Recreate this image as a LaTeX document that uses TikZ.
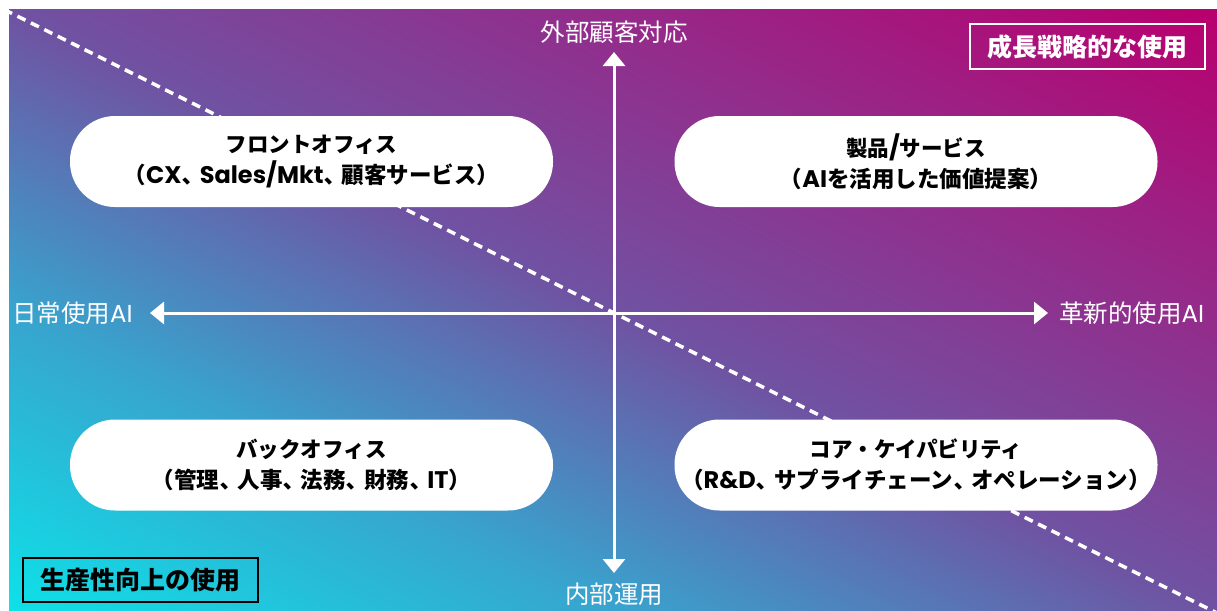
\documentclass[tikz,border=0pt]{standalone}
\usepackage{fontspec}
\setmainfont{Noto Sans CJK JP}
\newfontfamily\latf{Poppins}
\usetikzlibrary{arrows.meta}
\definecolor{c0}{HTML}{0EE0E8}
\definecolor{c1}{HTML}{38A4CE}
\definecolor{c2}{HTML}{7052A2}
\definecolor{c3}{HTML}{952A8A}
\definecolor{c4}{HTML}{B8006E}
\pgfdeclarehorizontalshading{bgshade}{100bp}{color(0bp)=(c0); color(14.64bp)=(c0); color(32.32bp)=(c1); color(50bp)=(c2); color(67.68bp)=(c3); color(85.36bp)=(c4); color(100bp)=(c4)}
\newcommand\tou{\kern1pt ､\kern6pt}
\newcommand\lp{\kern4pt（}
\newcommand\rp{）\kern4pt}
\newcommand\lt[1]{{\latf\fontsize{24pt}{31pt}\selectfont #1}}
\newcommand\sub[1]{{\fontsize{22.5pt}{31pt}\selectfont #1}}
\tikzset{
  quad/.style={fill=white, rounded corners=45pt, minimum width=483pt, minimum height=91pt, align=center, inner sep=0pt, font=\bfseries\fontsize{21.5pt}{31pt}\selectfont},
  axislbl/.style={text=white, inner sep=0pt, font=\fontsize{24.5pt}{28pt}\selectfont},
  axisline/.style={white, line width=3pt, {Triangle[width=22pt,length=14pt]}-{Triangle[width=22pt,length=14pt]}},
  divider/.style={white, line width=3.5pt, dash pattern=on 9pt off 6pt},
  tagbox/.style={line width=2pt, minimum width=235pt, minimum height=44pt, inner sep=0pt, font=\bfseries\fontsize{25pt}{28pt}\selectfont}
}
\begin{document}
\begin{tikzpicture}[x=1pt,y=-1pt]
\useasboundingbox (0,0) rectangle (1217,610);
\begin{scope}[transform canvas={shift={(9,610)}, xscale=12.08, yscale=6}]
\shade[shading=bgshade, shading angle=45] (0,0) rectangle (100,-100);
\end{scope}
\begin{scope}
\clip (9,10) rectangle (1217,610);
\coordinate (d1) at (4,9.5);
\coordinate (d2) at (1222,615.5);
\draw[divider] (d1) -- (d2);
\end{scope}
% axes
\coordinate (top) at (614,52);
\coordinate (bot) at (614,573);
\coordinate (lft) at (150,313);
\coordinate (rgt) at (1048,313);
\draw[axisline] (bot) -- (top);
\draw[axisline] (lft) -- (rgt);
\node[axislbl] (ext) at (614,32) {外部顧客対応};
\node[axislbl] (int) at (614,594) {内部運用};
\node[axislbl, anchor=west] (daily) at (12,313) {日常使用{\latf AI}};
\node[axislbl, anchor=west] (innov) at (1059,313) {革新的使用{\latf AI}};
% quadrants
\node[quad] (fo) at (311.5,161.5) {フロントオフィス\\\sub{\lp\lt{CX}\tou\lt{Sales/Mkt}\tou 顧客サービス\rp}};
\node[quad] (ps) at (916,161.5) {製品\lt{/}サービス\\\sub{\lp\lt{AI}を活用した価値提案\rp}};
\node[quad] (bo) at (311.5,465) {バックオフィス\\\sub{\lp 管理\tou 人事\tou 法務\tou 財務\tou\lt{IT}\rp}};
\node[quad] (cc) at (916,465) {コア・ケイパビリティ\\\sub{\lp\lt{R\&D}\tou サプライチェーン\tou オペレーション\rp}};
% tags
\node[tagbox, draw=white, text=white] (grow) at (1087.5,46.5) {成長戦略的な使用};
\node[tagbox, draw=black, text=black] (prod) at (140,580) {生産性向上の使用};
\end{tikzpicture}
\end{document}
